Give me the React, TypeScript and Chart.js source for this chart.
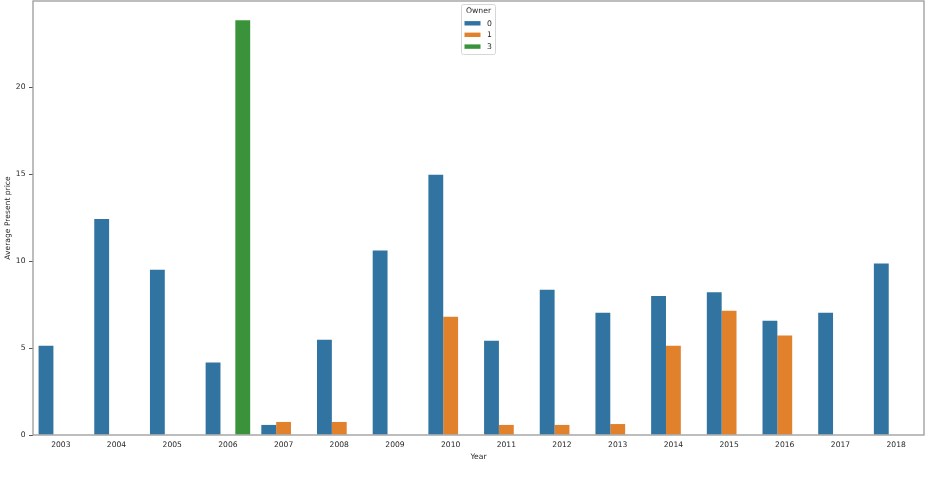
import React, { useEffect, useRef } from "react";
import { Chart, registerables } from "chart.js";

Chart.register(...registerables);

const years = ["2003", "2004", "2005", "2006", "2007", "2008", "2009", "2010", "2011", "2012", "2013", "2014", "2015", "2016", "2017", "2018"];
const owner0 = [5.13, 12.43, 9.51, 4.17, 0.58, 5.48, 10.62, 14.97, 5.42, 8.36, 7.03, 8.0, 8.22, 6.57, 7.03, 9.87];
const owner1 = [null, null, null, null, 0.75, 0.75, null, 6.8, 0.58, 0.58, 0.63, 5.13, 7.15, 5.72, null, null];
const owner3 = [null, null, null, 23.86, null, null, null, null, null, null, null, null, null, null, null, null];
const seriesLabels = ["0", "1", "3"];
const yTicks = [0, 5, 10, 15, 20];
const legendTitle = "Owner";
const xTitle = "Year";
const yTitle = "Average Present price";

const FONT = "DejaVu Sans";
const TEXT = "#262626";

const framePlugin = {
  id: "frame",
  afterDraw(chart: any) {
    const { ctx, chartArea: a } = chart;
    ctx.save();
    ctx.strokeStyle = "#9a9a9a";
    ctx.lineWidth = 1.3;
    ctx.strokeRect(a.left, a.top, a.right - a.left, a.bottom - a.top);
    ctx.restore();
  },
};

const legendPlugin = {
  id: "customLegend",
  afterDraw(chart: any) {
    const { ctx } = chart;
    const x = 461.5, y = 4.5, w = 34, h = 50;
    ctx.save();
    ctx.fillStyle = "rgba(255,255,255,0.8)";
    ctx.strokeStyle = "#d6d6d6";
    ctx.lineWidth = 1;
    ctx.beginPath();
    (ctx as any).roundRect ? (ctx as any).roundRect(x, y, w, h, 2) : ctx.rect(x, y, w, h);
    ctx.fill();
    ctx.stroke();
    ctx.fillStyle = TEXT;
    ctx.font = `7.7px "${FONT}"`;
    ctx.textAlign = "center";
    ctx.textBaseline = "middle";
    ctx.fillText(legendTitle, x + w / 2, 11.5);
    const rows = [23.3, 34.8, 46.6];
    chart.data.datasets.forEach((ds: any, i: number) => {
      ctx.fillStyle = ds.backgroundColor;
      ctx.fillRect(464.5, rows[i] - 2.2, 16, 4.4);
      ctx.fillStyle = TEXT;
      ctx.textAlign = "left";
      ctx.fillText(ds.label, 487, rows[i] + 0.3);
    });
    ctx.restore();
  },
};

export default function App() {
  const ref = useRef<HTMLCanvasElement | null>(null);

  useEffect(() => {
    if (!ref.current) return;
    const font = { family: FONT, size: 7.6 };
    const chart = new Chart(ref.current, {
      type: "bar",
      data: {
        labels: years,
        datasets: [
          { label: seriesLabels[0], data: owner0, backgroundColor: "#3274a1", borderWidth: 0 },
          { label: seriesLabels[1], data: owner1, backgroundColor: "#e1812c", borderWidth: 0 },
          { label: seriesLabels[2], data: owner3, backgroundColor: "#3a923a", borderWidth: 0 },
        ],
      },
      options: {
        animation: false,
        responsive: false,
        maintainAspectRatio: false,
        devicePixelRatio: 1,
        layout: { padding: { left: 0, top: 1, right: 5, bottom: 18 } },
        datasets: { bar: { categoryPercentage: 0.8, barPercentage: 1.0 } },
        plugins: { legend: { display: false }, tooltip: { enabled: false } },
        scales: {
          x: {
            grid: { display: false, drawTicks: false },
            border: { display: false },
            ticks: { font, color: TEXT, padding: 5, maxRotation: 0, autoSkip: false },
            title: { display: true, text: xTitle, font, color: TEXT, padding: { top: 4, bottom: 4 } },
            afterFit: (s: any) => { s.height = 31; s.paddingLeft = 0; s.paddingRight = 0; },
          },
          y: {
            min: 0,
            max: 24.97,
            afterBuildTicks: (s: any) => { s.ticks = yTicks.map((v) => ({ value: v })); },
            grid: { drawOnChartArea: false, drawTicks: true, tickLength: 4, color: "#555" },
            border: { display: false },
            ticks: { font, color: TEXT, padding: 3.5 },
            title: { display: true, text: yTitle, font, color: TEXT, padding: { top: 3, bottom: 3 } },
            afterFit: (s: any) => { s.width = 33; s.paddingTop = 0; s.paddingBottom = 0; },
          },
        },
      },
      plugins: [framePlugin, legendPlugin],
    } as any);
    return () => chart.destroy();
  }, []);

  return (
    <div style={{ position: "absolute", left: 0, top: 0, width: 929, height: 484, background: "#fff" }}>
      <canvas ref={ref} width={929} height={484} style={{ width: 929, height: 484, display: "block" }} />
    </div>
  );
}
